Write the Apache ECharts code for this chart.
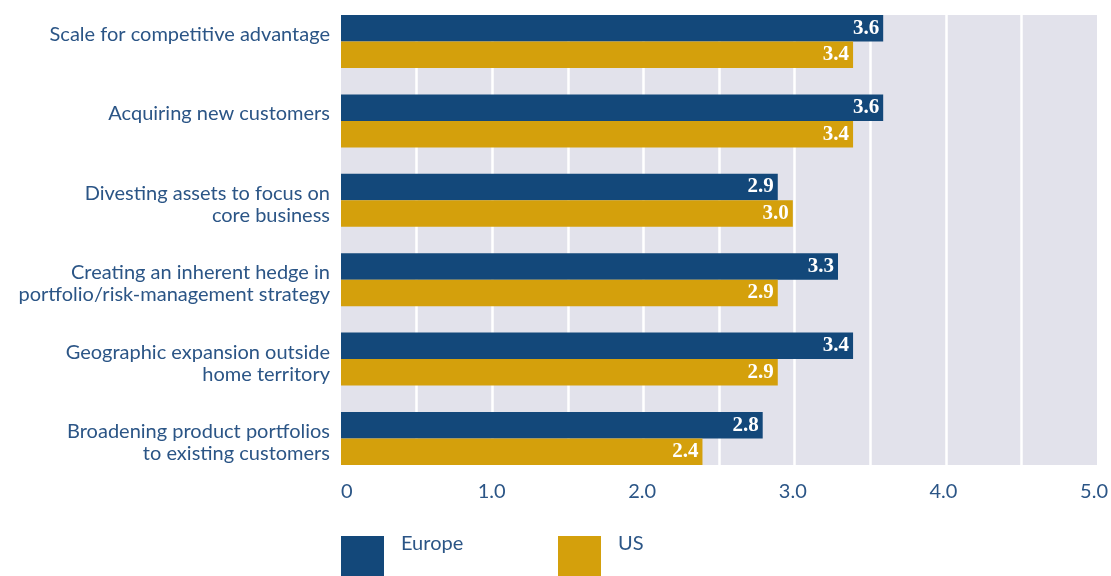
<!DOCTYPE html>
<html>
<head>
<meta charset="utf-8">
<script src="https://cdn.jsdelivr.net/npm/echarts@6/dist/echarts.min.js"></script>
<style>
  html, body { margin: 0; padding: 0; background: #ffffff; }
  #chart { width: 1111px; height: 576px; }
</style>
</head>
<body>
<div id="chart"></div>
<script>
// Reasons for deals, average rating by region
const categories = [
  'Scale for competitive advantage',
  'Acquiring new customers',
  'Divesting assets to focus on\ncore business',
  'Creating an inherent hedge in\nportfolio/risk-management strategy',
  'Geographic expansion outside\nhome territory',
  'Broadening product portfolios\nto existing customers'
];
const europe = [3.6, 3.6, 2.9, 3.3, 3.4, 2.8];
const us = [3.4, 3.4, 3.0, 2.9, 2.9, 2.4];
const tickLabels = ['0', '1.0', '2.0', '3.0', '4.0', '5.0'];

const NAVY = '#13487a';
const GOLD = '#d4a00c';
const TEXT = '#2b5586';
const SANS = 'Lato, "Noto Sans", sans-serif';
const SERIF = '"Liberation Serif", "DejaVu Serif", serif';

const chart = echarts.init(document.getElementById('chart'), null, { renderer: 'canvas' });

const valueLabel = {
  show: true,
  position: 'insideRight',
  distance: 4,
  color: '#ffffff',
  fontFamily: SERIF,
  fontWeight: 'bold',
  fontSize: 21,
  formatter: p => p.value.toFixed(1)
};

// one legend block per region, text set high beside a large square key
function legendFor(name, left) {
  return {
    left: left,
    top: 534,
    padding: 0,
    icon: 'rect',
    itemWidth: 43,
    itemHeight: 43,
    selectedMode: false,
    formatter: n => '{t|' + n + '}',
    textStyle: {
      rich: {
        t: { color: TEXT, fontFamily: SANS, fontSize: 20, padding: [0, 0, 27, 12] }
      }
    },
    data: [name]
  };
}

// category labels: a thin spacer line on top, single-line names padded to two lines
function categoryLabel(v) {
  const lines = v.split('\n');
  if (lines.length < 2) lines.push(' ');
  return '{g| }\n' + lines.map(l => '{c|' + l + '}').join('\n');
}

chart.setOption({
  animation: false,
  legend: [legendFor('Europe', 341), legendFor('US', 558)],
  grid: [
    // shaded plot panel with half-unit white rules
    { left: 341, right: 14, top: 15, height: 450, show: true, backgroundColor: '#e2e2eb', borderWidth: 0 },
    // bars and category labels
    { left: 341, right: 14, top: 1.8, height: 476.4 }
  ],
  xAxis: [
    {
      gridIndex: 0, type: 'value', min: 0, max: 5, interval: 0.5,
      axisLine: { show: false }, axisTick: { show: false }, axisLabel: { show: false },
      splitLine: { show: true, showMinLine: false, showMaxLine: false, lineStyle: { color: '#ffffff', width: 2.5 } }
    },
    {
      gridIndex: 1, type: 'value', min: 0, max: 5, interval: 1,
      axisLine: { show: false }, axisTick: { show: false }, splitLine: { show: false },
      axisLabel: {
        margin: 3,
        color: TEXT,
        fontFamily: SANS,
        fontSize: 20,
        alignMinLabel: 'left',
        formatter: v => tickLabels[Math.round(v)]
      }
    }
  ],
  yAxis: [
    { gridIndex: 0, type: 'value', show: false, min: 0, max: 1 },
    {
      gridIndex: 1, type: 'category', inverse: true, data: categories,
      axisLine: { show: false }, axisTick: { show: false },
      axisLabel: {
        margin: 11,
        align: 'right',
        formatter: categoryLabel,
        rich: {
          g: { fontSize: 1, lineHeight: 8, height: 8 },
          c: { color: TEXT, fontFamily: SANS, fontSize: 20, lineHeight: 22, align: 'right' }
        }
      }
    }
  ],
  series: [
    {
      name: 'Europe', type: 'bar', xAxisIndex: 1, yAxisIndex: 1,
      data: europe, barWidth: 26.5, barGap: '0%',
      itemStyle: { color: NAVY }, label: valueLabel
    },
    {
      name: 'US', type: 'bar', xAxisIndex: 1, yAxisIndex: 1,
      data: us, barWidth: 26.5, barGap: '0%',
      itemStyle: { color: GOLD }, label: valueLabel
    }
  ]
});
</script>
</body>
</html>
